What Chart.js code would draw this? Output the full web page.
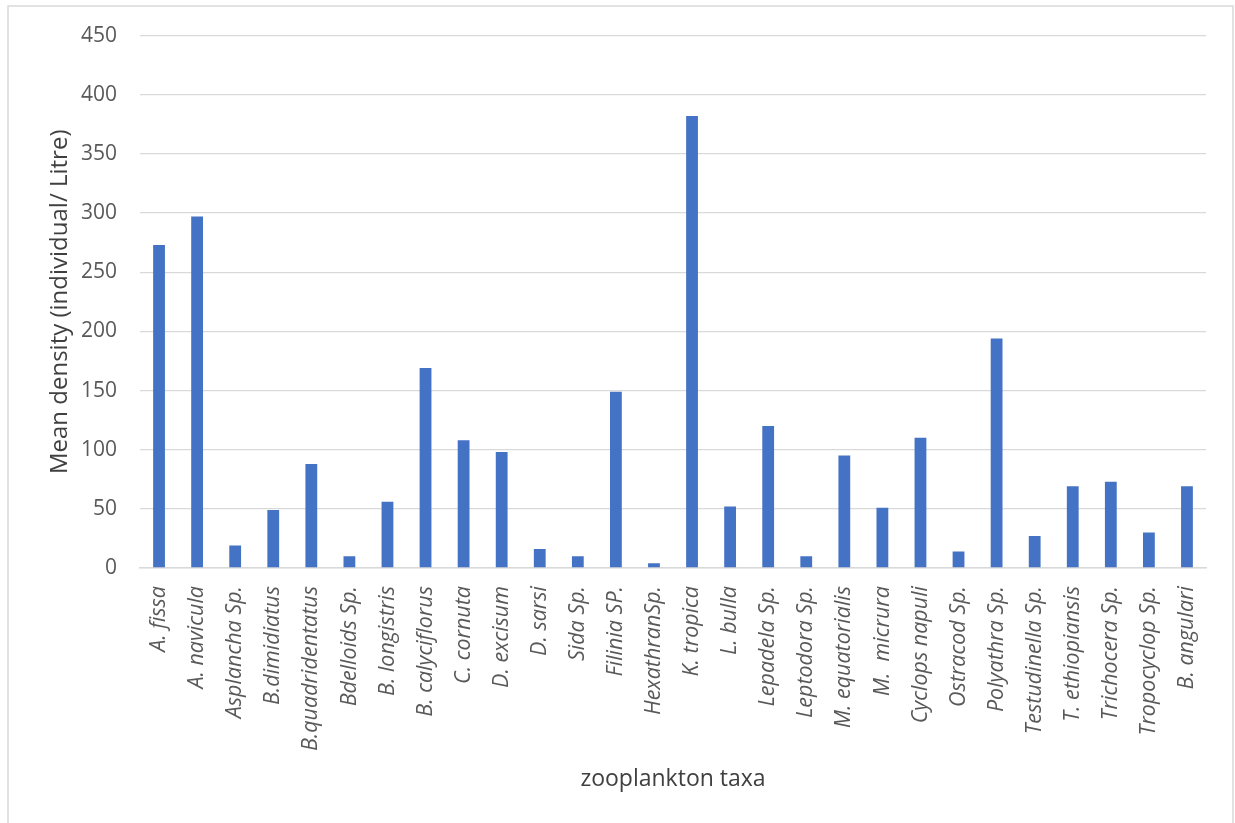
<!DOCTYPE html>
<html>
<head>
<meta charset="utf-8">
<script src="https://cdn.jsdelivr.net/npm/chart.js@4.4.1/dist/chart.umd.min.js"></script>
<style>
  html, body { margin: 0; padding: 0; background: #ffffff; }
  canvas { display: block; }
</style>
</head>
<body>
<canvas id="c" width="1235" height="823"></canvas>
<script>
const taxa = [
  "A. fissa", "A. navicula", "Asplancha Sp.", "B.dimidiatus", "B.quadridentatus",
  "Bdelloids Sp.", "B. longistris", "B. calyciflorus", "C. cornuta", "D. excisum",
  "D. sarsi", "Sida Sp.", "Filinia SP.", "HexathranSp.", "K. tropica",
  "L. bulla", "Lepadela Sp.", "Leptodora Sp.", "M. equatorialis", "M.  micrura",
  "Cyclops napuli", "Ostracod Sp.", "Polyathra Sp.", "Testudinella Sp.", "T. ethiopiansis",
  "Trichocera Sp.", "Tropocyclop Sp.", "B. angulari"
];
const meanDensity = [
  273, 297, 19, 49, 88,
  10, 56, 169, 108, 98,
  16, 10, 149, 4, 382,
  52, 120, 10, 95, 51,
  110, 14, 194, 27, 69,
  73, 30, 69
];
const yTicks = [0, 50, 100, 150, 200, 250, 300, 350, 400, 450];
const yTitle = "Mean density (individual/ Litre)";
const xTitle = "zooplankton taxa";

const frame = {
  id: 'frame',
  beforeDraw(chart) {
    const ctx = chart.ctx;
    ctx.save();
    ctx.fillStyle = '#ffffff';
    ctx.fillRect(0, 0, chart.width, chart.height);
    ctx.strokeStyle = '#d9d9d9';
    ctx.lineWidth = 1.5;
    ctx.strokeRect(8, 6, 1225, 900);
    ctx.restore();
  }
};

new Chart(document.getElementById('c'), {
  type: 'bar',
  data: {
    labels: taxa,
    datasets: [{
      data: meanDensity,
      backgroundColor: '#4472C4',
      borderWidth: 0,
      barPercentage: 0.31,
      categoryPercentage: 1.0
    }]
  },
  plugins: [frame],
  options: {
    responsive: false,
    animation: false,
    layout: { padding: { top: 34, right: 29, bottom: 0, left: 0 } },
    plugins: { legend: { display: false }, tooltip: { enabled: false } },
    scales: {
      x: {
        grid: { display: false, drawTicks: false },
        border: { display: true, color: '#d9d9d9', width: 1.5 },
        ticks: {
          color: '#595959',
          font: { family: 'Open Sans', size: 21.5, style: 'italic' },
          minRotation: 90, maxRotation: 90,
          autoSkip: false,
          padding: 18
        },
        title: {
          display: true, text: xTitle, color: '#404040',
          font: { family: 'Open Sans', size: 23 },
          padding: { top: 0, bottom: 30 }
        },
        afterFit(scale) { scale.height = 255; }
      },
      y: {
        min: 0, max: 450,
        afterBuildTicks(scale) { scale.ticks = yTicks.map(v => ({ value: v })); },
        grid: { color: '#d9d9d9', lineWidth: 1.3, drawTicks: false },
        border: { display: false },
        ticks: {
          color: '#595959',
          font: { family: 'Open Sans', size: 21 },
          padding: 23
        },
        title: {
          display: true, text: yTitle, color: '#404040',
          font: { family: 'Open Sans', size: 24 },
          padding: { top: 46, bottom: 0 }
        },
        afterFit(scale) { scale.width = 140; }
      }
    }
  }
});
</script>
</body>
</html>
